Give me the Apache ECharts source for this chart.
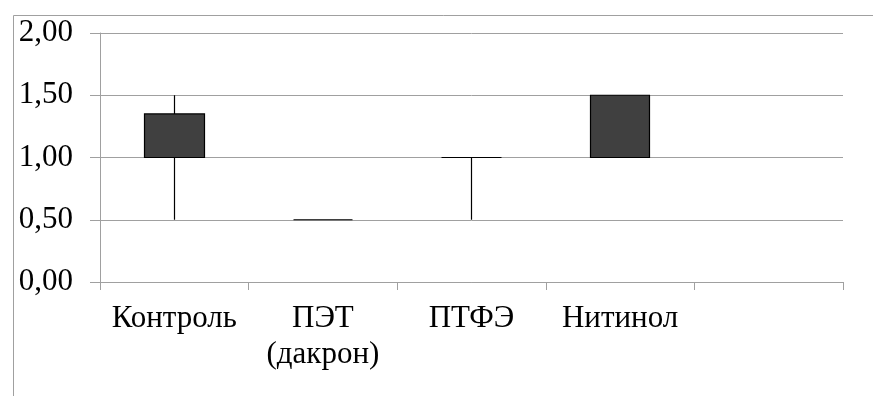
<!DOCTYPE html>
<html>
<head>
<meta charset="utf-8">
<script src="https://cdn.jsdelivr.net/npm/echarts@6/dist/echarts.min.js"></script>
<style>
html,body{margin:0;padding:0;background:#fff;}
#chart{width:873px;height:396px;}
</style>
</head>
<body>
<div id="chart"></div>
<script>
var categories = ['Контроль', 'ПЭТ\n(дакрон)', 'ПТФЭ', 'Нитинол', ''];
var openValues = [1.00, 0.50, 1.00, 1.00, null];
var closeValues = [1.35, 0.50, 1.00, 1.50, null];
var lowValues = [0.50, 0.50, 0.50, 1.00, null];
var highValues = [1.50, 0.50, 1.00, 1.50, null];
var yTicks = {min: 0, max: 2, interval: 0.5};

var seriesData = categories.map(function (c, i) {
  if (openValues[i] === null) return '-';
  return [openValues[i], closeValues[i], lowValues[i], highValues[i]];
});

var FONT = 'Liberation Serif';
var GRAY = '#a0a0a0';
var chart = echarts.init(document.getElementById('chart'), null, {renderer: 'canvas'});
chart.setOption({
  animation: false,
  backgroundColor: '#fff',
  textStyle: {fontFamily: FONT},
  graphic: [{
    type: 'polyline',
    shape: {points: [[13.5, 400], [13.5, 15.5], [880, 15.5]]},
    style: {stroke: GRAY, lineWidth: 1, fill: null},
    silent: true
  }],
  grid: {left: 100, right: 30, top: 33, bottom: 114},
  xAxis: {
    type: 'category',
    data: categories,
    boundaryGap: true,
    axisLine: {show: true, lineStyle: {color: GRAY, width: 1}},
    axisTick: {show: true, length: 8, interval: 0, alignWithLabel: false, lineStyle: {color: GRAY}},
    axisLabel: {interval: 0, margin: 19, color: '#000', fontFamily: FONT, fontSize: 31, lineHeight: 36},
    splitLine: {show: false}
  },
  yAxis: {
    type: 'value',
    min: yTicks.min, max: yTicks.max, interval: yTicks.interval,
    axisLine: {show: true, lineStyle: {color: GRAY, width: 1}},
    axisTick: {show: true, length: 10, lineStyle: {color: GRAY}},
    axisLabel: {
      margin: 27, color: '#000', fontFamily: FONT, fontSize: 31,
      formatter: function (v) { return v.toFixed(2).replace('.', ','); }
    },
    splitLine: {show: true, lineStyle: {color: GRAY, width: 1}}
  },
  series: [{
    type: 'candlestick',
    data: seriesData,
    barWidth: 60,
    itemStyle: {
      color: '#404040', color0: '#404040',
      borderColor: '#000', borderColor0: '#000', borderWidth: 1.2
    }
  }]
});
</script>
</body>
</html>
